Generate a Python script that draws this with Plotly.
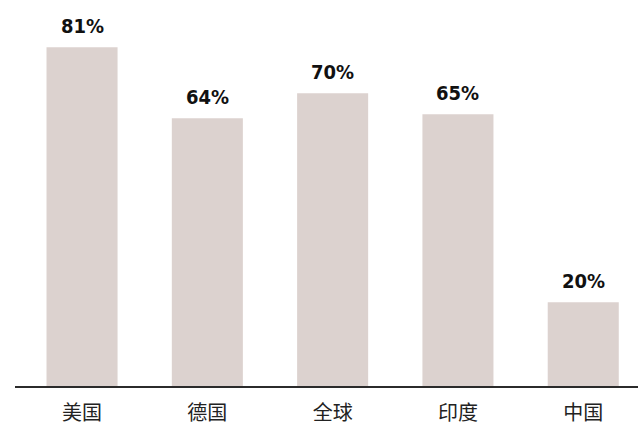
import plotly.graph_objects as go

# Share by region
regions = ["美国", "德国", "全球", "印度", "中国"]
shares = [81, 64, 70, 65, 20]
labels = [f"{v}%" for v in shares]

fig = go.Figure(
    go.Bar(
        x=regions,
        y=shares,
        width=0.567,
        marker=dict(color="#dcd2cf", line=dict(width=0)),
        cliponaxis=False,
    )
)

# Value labels above each bar
for r, v, t in zip(regions, shares, labels):
    fig.add_annotation(
        x=r, y=v, text=t, showarrow=False,
        yanchor="bottom", yshift=7,
        font=dict(family="DejaVu Sans Condensed, sans-serif",
                  size=20, color="#111111", weight="bold"),
    )

fig.update_layout(
    width=638,
    height=430,
    margin=dict(l=15, r=0, t=0, b=44),
    paper_bgcolor="white",
    plot_bgcolor="white",
    showlegend=False,
)

fig.update_xaxes(
    range=[-0.535, 4.437],
    showline=True,
    linecolor="#2b2b2b",
    linewidth=2,
    ticks="",
    showgrid=False,
    ticklabelstandoff=8,
    tickfont=dict(family="Noto Sans CJK SC", size=20, color="#222222"),
)

fig.update_yaxes(
    range=[0, 92.3],
    visible=False,
    showgrid=False,
    zeroline=False,
)

fig.write_html("out.html")
